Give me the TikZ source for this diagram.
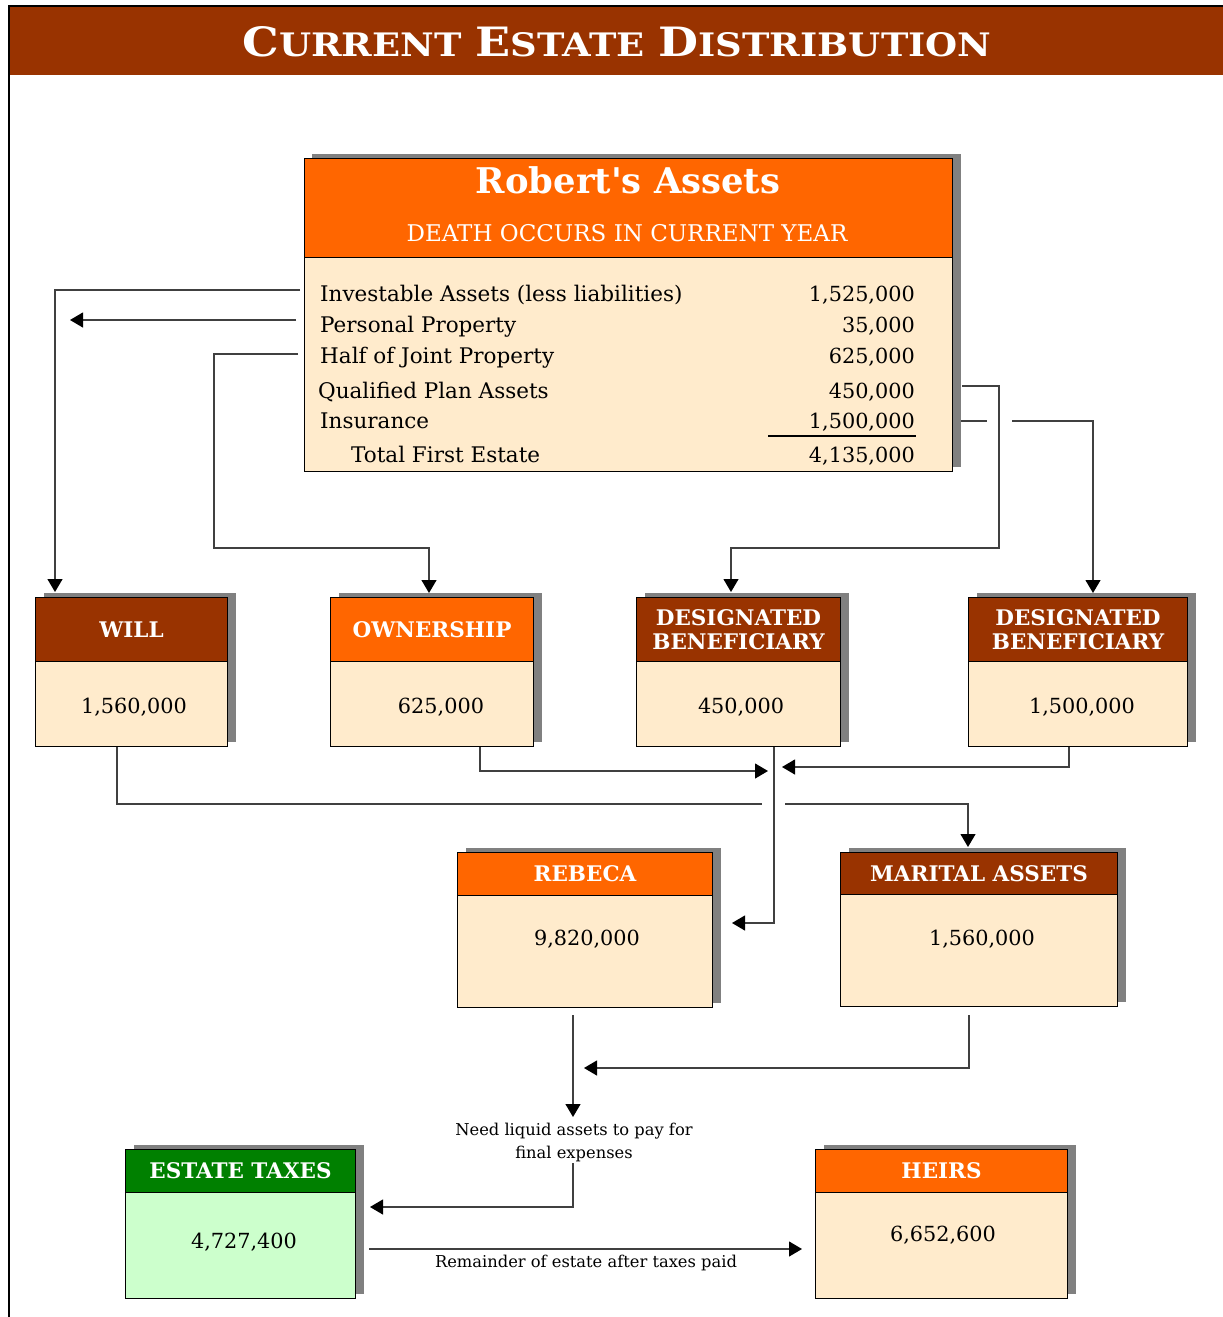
\documentclass[tikz,border=0pt]{standalone}
\usepackage{fontspec}
\setmainfont{DejaVu Serif}
\usetikzlibrary{arrows.meta}
\definecolor{brn}{HTML}{993300}
\definecolor{org}{HTML}{FF6600}
\definecolor{crm}{HTML}{FFEBCC}
\definecolor{grn}{HTML}{008000}
\definecolor{lgrn}{HTML}{CCFFCC}
\definecolor{shd}{HTML}{808080}
\definecolor{lin}{HTML}{404040}
\tikzset{
  conn/.style={draw=lin, line width=1.2pt},
  tip/.style={conn, -{Triangle[color=black,length=13pt,width=15pt]}},
  hdrbox/.style={draw=black, line width=1pt, inner sep=0pt, anchor=north west, text=white, align=center,
     font=\fontsize{21.5}{24}\selectfont\bfseries},
  bodybox/.style={draw=black, line width=1pt, inner sep=0pt, anchor=north west},
  val/.style={inner sep=0pt, font=\fontsize{20.8}{22}\selectfont},
  rowtxt/.style={inner sep=0pt, anchor=base west, font=\fontsize{21.5}{22}\selectfont},
  rowval/.style={inner sep=0pt, anchor=base east, font=\fontsize{20.8}{22}\selectfont},
  note/.style={inner sep=0pt, font=\fontsize{16.3}{23}\selectfont, align=center}
}
% name, x1, y1, x2, yh, y2, header colour, body colour, label
\newcommand{\ebox}[9]{%
  \fill[shd] (#2+9,#3-4) rectangle (#4+9,#6-4);
  \node[hdrbox, fill=#7, minimum width={(#4-#2)*1pt}, minimum height={(#5-#3)*1pt}] (#1) at (#2,#3) {#9};
  \node[bodybox, fill=#8, minimum width={(#4-#2)*1pt}, minimum height={(#6-#5)*1pt}] (#1b) at (#2,#5) {};
}
\newcommand{\bsc}[2]{{\fontsize{40}{42}\selectfont #1}{\fontsize{32}{34}\selectfont #2}}
\newcommand{\straightapos}{\XeTeXglyph\XeTeXcharglyph"0027\relax}
\begin{document}
\begin{tikzpicture}[x=1pt,y=-1pt]
\useasboundingbox (0,0) rectangle (1223,1317);
% title bar
\fill[brn] (9,7) rectangle (1223,75);
\draw[black, line width=1.2pt] (9,1317) -- (9,6) -- (1223,6);
\node[text=white, font=\bfseries, inner sep=0pt] (title) at (617,42)
  {\resizebox{749pt}{30pt}{\bsc{C}{URRENT}\hspace{12pt}\bsc{E}{STATE}\hspace{12pt}\bsc{D}{ISTRIBUTION}}};

% Robert's assets
\fill[shd] (312,154) rectangle (961,467);
\node[draw=black, line width=1pt, fill=org, inner sep=0pt, anchor=north west,
      minimum width=648pt, minimum height=99pt] (rob) at (304,158) {};
\node[draw=black, line width=1pt, fill=crm, inner sep=0pt, anchor=north west,
      minimum width=648pt, minimum height=214pt] (robb) at (304,257) {};
\node[text=white, inner sep=0pt, anchor=base, font=\fontsize{35.4}{37}\selectfont\bfseries] (robt) at (628,193) {Robert\straightapos s Assets};
\node[text=white, inner sep=0pt, anchor=base, font=\fontsize{23}{24}\selectfont] (robs) at (627,241) {DEATH OCCURS IN CURRENT YEAR};

\node[rowtxt] (l1) at (320,301) {Investable Assets (less liabilities)};
\node[rowtxt] (l2) at (320,332) {Personal Property};
\node[rowtxt] (l3) at (320,363) {Half of Joint Property};
\node[rowtxt] (l4) at (318,398) {Qualified Plan Assets};
\node[rowtxt] (l5) at (320,428) {Insurance};
\node[rowtxt] (l6) at (351,462) {Total First Estate};
\node[rowval] (v1) at (915,301) {1,525,000};
\node[rowval] (v2) at (915,332) {35,000};
\node[rowval] (v3) at (915,363) {625,000};
\node[rowval] (v4) at (915,398) {450,000};
\node[rowval] (v5) at (915,428) {1,500,000};
\node[rowval] (v6) at (915,462) {4,135,000};
\draw[black, line width=1.2pt] (768,436) -- (916,436);

% second row boxes
\ebox{will}{35}{597}{227}{661}{746}{brn}{crm}{WILL}
\ebox{own}{330}{597}{533}{661}{746}{org}{crm}{OWNERSHIP}
\ebox{dbA}{636}{597}{840}{661}{746}{brn}{crm}{DESIGNATED\\BENEFICIARY}
\ebox{dbB}{968}{597}{1187}{661}{746}{brn}{crm}{DESIGNATED\\BENEFICIARY}
\node[val] (willv) at (134,707) {1,560,000};
\node[val] (ownv) at (441,707) {625,000};
\node[val] (dbAv) at (741,707) {450,000};
\node[val] (dbBv) at (1082,707) {1,500,000};

% third row
\ebox{reb}{457}{852}{712}{895}{1007}{org}{crm}{REBECA}
\ebox{mar}{840}{852}{1117}{894}{1006}{brn}{crm}{MARITAL ASSETS}
\node[val] (rebv) at (587,939) {9,820,000};
\node[val] (marv) at (982,939) {1,560,000};

% fourth row
\ebox{tax}{125}{1149}{355}{1192}{1298}{grn}{lgrn}{ESTATE TAXES}
\ebox{heir}{815}{1149}{1067}{1192}{1298}{org}{crm}{HEIRS}
\node[val] (taxv) at (244,1242) {4,727,400};
\node[val] (heirv) at (943,1235) {6,652,600};

\node[note] (need) at (574,1142) {Need liquid assets to pay for\\final expenses};
\node[note, anchor=base] (rem) at (586,1267) {Remainder of estate after taxes paid};

% coordinates for connector ends
\coordinate (a1) at (300,290);
\coordinate (a1t) at (55,592);
\coordinate (a2) at (296,320);
\coordinate (a2t) at (70,320);
\coordinate (a3) at (298,354);
\coordinate (a3t) at (429,593);
\coordinate (a4) at (962,386);
\coordinate (a4t) at (731,592);
\coordinate (a5) at (961,421);
\coordinate (a5g) at (987,421);
\coordinate (a5h) at (1012,421);
\coordinate (a5t) at (1093,593);
\coordinate (b1t) at (768,771);
\coordinate (b2t) at (782,767);
\coordinate (b3g) at (762,804);
\coordinate (b3h) at (785,804);
\coordinate (b3t) at (968,847);
\coordinate (b4t) at (732,923);
\coordinate (c1) at (573,1015);
\coordinate (c1t) at (573,1117);
\coordinate (c2) at (969,1015);
\coordinate (c2t) at (584,1068);
\coordinate (c3) at (573,1163);
\coordinate (c3t) at (370,1207);
\coordinate (c4) at (369,1249);
\coordinate (c4t) at (802,1249);

% connectors from Robert's box
\draw[tip] (a1) -- (a1t |- a1) -- (a1t);
\draw[tip] (a2) -- (a2t);
\draw[tip] (a3) -- (214,354) -- (214,548) -- (a3t |- 0,548) -- (a3t);
\draw[tip] (a4) -- (999,386) -- (999,548) -- (a4t |- 0,548) -- (a4t);
\draw[conn] (a5) -- (a5g);
\draw[tip] (a5h) -- (a5t |- a5h) -- (a5t);

% second row to third row
\draw[tip] (ownb.south -| 480,0) -- (480,771) -- (b1t);
\draw[tip] (dbBb.south -| 1069,0) -- (1069,767) -- (b2t);
\draw[conn] (willb.south -| 117,0) -- (117,804) -- (b3g);
\draw[tip] (b3h) -- (b3t |- b3h) -- (b3t);
\draw[tip] (dbAb.south -| 774,0) -- (774,923) -- (b4t);

% third row to bottom
\draw[tip] (c1) -- (c1t);
\draw[tip] (c2) -- (969,1068) -- (c2t);
\draw[tip] (c3) -- (573,1207) -- (c3t);
\draw[tip] (c4) -- (c4t);
\end{tikzpicture}
\end{document}
